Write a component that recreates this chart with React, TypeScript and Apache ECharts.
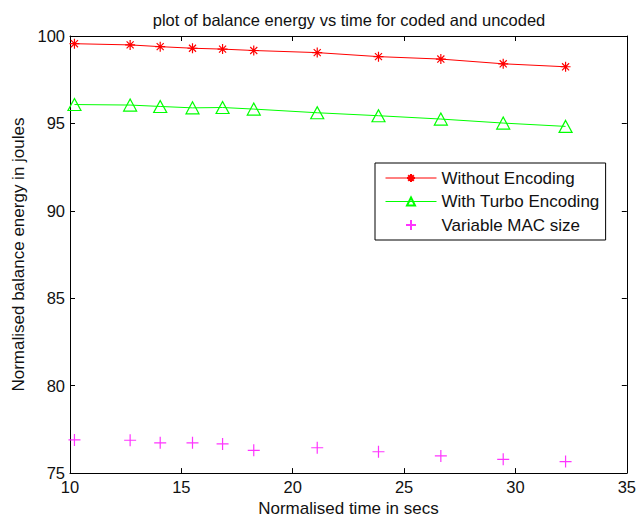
import React, { useEffect, useRef } from "react";
import * as echarts from "echarts";

const timeValues = [10.2, 12.7, 14.05, 15.5, 16.85, 18.25, 21.1, 23.85, 26.65, 29.45, 32.25];
const withoutEncoding = [99.56, 99.49, 99.39, 99.3, 99.25, 99.17, 99.05, 98.82, 98.68, 98.41, 98.24];
const withTurboEncoding = [96.08, 96.05, 95.97, 95.89, 95.91, 95.82, 95.61, 95.44, 95.25, 95.02, 94.83];
const variableMacSize = [76.9, 76.88, 76.73, 76.73, 76.67, 76.3, 76.45, 76.22, 75.98, 75.79, 75.66];
const seriesNames = ["Without Encoding", "With Turbo Encoding", "Variable MAC size"];

const FONT = "'Liberation Sans', Arial, Helvetica, sans-serif";
const TXT = "#111111";

const asterisk =
  "path://M0,-6 L0,6 M-6,0 L6,0 M-4.24,-4.24 L4.24,4.24 M-4.24,4.24 L4.24,-4.24";
const triangle = "path://M0,-6 L6,5 L-6,5 Z";
const plus = "path://M0,-6 L0,6 M-6,0 L6,0";

const pairs = (ys: number[]) => timeValues.map((x, i) => [x, ys[i]]);

export default function App() {
  const ref = useRef<HTMLDivElement>(null);
  useEffect(() => {
    if (!ref.current) return;
    const chart = echarts.init(ref.current, null, { renderer: "svg" });
    const axisCommon = {
      type: "value" as const,
      axisLine: { show: true, onZero: false, lineStyle: { color: "#000", width: 1 } },
      axisTick: { show: true, inside: true, length: 5, lineStyle: { color: "#000" } },
      splitLine: { show: false },
    };
    chart.setOption({
      animation: false,
      backgroundColor: "#ffffff",
      textStyle: { fontFamily: FONT },
      grid: { left: 70, right: 8, top: 36, bottom: 45, containLabel: false },
      graphic: [
        {
          type: "text",
          x: 349,
          y: 19.5,
          style: {
            text: "plot of balance energy vs time for coded and uncoded",
            fontSize: 16.5,
            fontFamily: FONT,
            fill: TXT,
            align: "center",
            verticalAlign: "middle",
          },
        },
      ],
      xAxis: [
        {
          ...axisCommon,
          position: "bottom",
          min: 10,
          max: 35,
          interval: 5,
          axisLabel: { color: TXT, fontSize: 16.5, margin: 5, fontFamily: FONT },
          name: "Normalised time in secs",
          nameLocation: "middle",
          nameGap: 22,
          nameTextStyle: { color: TXT, fontSize: 17, fontFamily: FONT, verticalAlign: "top" },
        },
        {
          ...axisCommon,
          position: "top",
          min: 10,
          max: 35,
          interval: 5,
          axisLabel: { show: false },
        },
      ],
      yAxis: [
        {
          ...axisCommon,
          position: "left",
          min: 75,
          max: 100,
          interval: 5,
          axisLabel: { color: TXT, fontSize: 16.5, margin: 5, fontFamily: FONT },
          name: "Normalised balance energy in joules",
          nameLocation: "middle",
          nameGap: 43.5,
          nameTextStyle: { color: TXT, fontSize: 17, fontFamily: FONT },
        },
        {
          ...axisCommon,
          position: "right",
          min: 75,
          max: 100,
          interval: 5,
          axisLabel: { show: false },
        },
      ],
      legend: {
        orient: "vertical",
        left: 375,
        top: 163,
        padding: [6.5, 6, 6.5, 10],
        itemWidth: 51,
        itemHeight: 10,
        itemGap: 6.5,
        borderColor: "#000",
        borderWidth: 1,
        backgroundColor: "#fff",
        selectedMode: false,
        lineStyle: { width: 1 },
        textStyle: { color: TXT, fontSize: 17, fontFamily: FONT },
        data: seriesNames,
      },
      series: [
        {
          name: seriesNames[0],
          type: "line",
          xAxisIndex: 0,
          yAxisIndex: 0,
          data: pairs(withoutEncoding),
          symbol: asterisk,
          symbolSize: 10,
          showAllSymbol: true,
          lineStyle: { color: "#ff0000", width: 1 },
          itemStyle: { color: "#ff0000", borderColor: "#ff0000", borderWidth: 1.2 },
        },
        {
          name: seriesNames[1],
          type: "line",
          xAxisIndex: 0,
          yAxisIndex: 0,
          data: pairs(withTurboEncoding),
          symbol: triangle,
          symbolSize: [13, 12],
          showAllSymbol: true,
          lineStyle: { color: "#00ff00", width: 1 },
          itemStyle: { color: "rgba(0,0,0,0)", borderColor: "#00ff00", borderWidth: 1.2 },
        },
        {
          name: seriesNames[2],
          type: "scatter",
          xAxisIndex: 0,
          yAxisIndex: 0,
          data: pairs(variableMacSize),
          symbol: plus,
          symbolSize: 12,
          itemStyle: { color: "#ff00ff", borderColor: "#ff00ff", borderWidth: 1.2 },
        },
      ],
    });
    return () => chart.dispose();
  }, []);
  return (
    <div
      ref={ref}
      style={{ position: "absolute", left: 0, top: 0, width: 639, height: 522, background: "#fff" }}
    />
  );
}
